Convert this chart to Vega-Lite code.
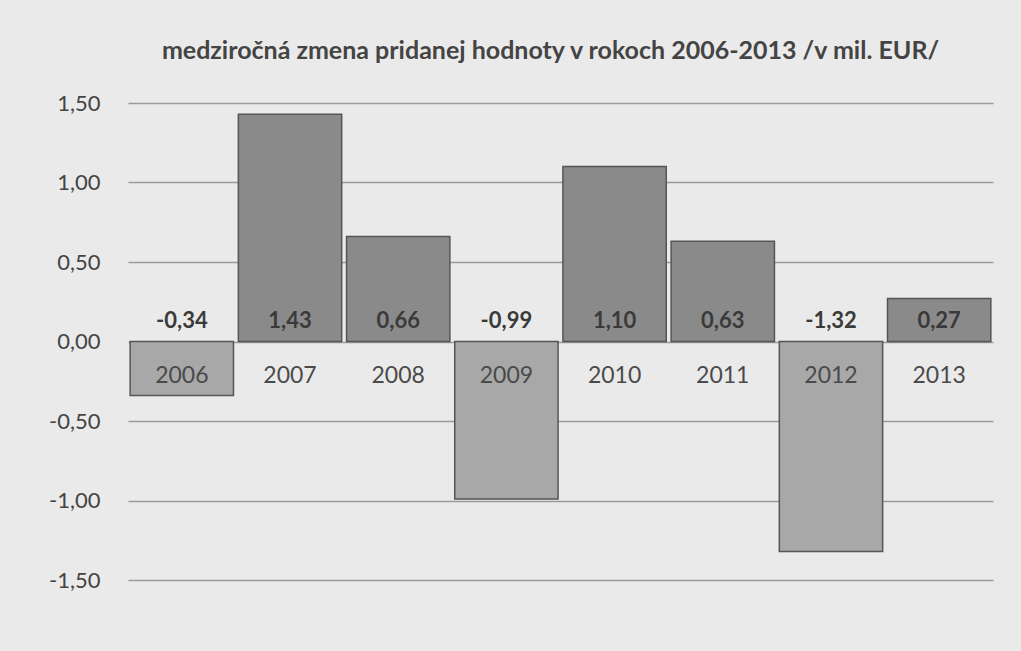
{
  "$schema": "https://vega.github.io/schema/vega-lite/v6.json",
  "width": 865,
  "height": 477,
  "autosize": {"type": "none"},
  "padding": {"left": 128, "top": 103, "right": 28, "bottom": 71},
  "background": "#eaeaea",
  "config": {
    "locale": {"number": {"decimal": ",", "thousands": " ", "grouping": [3], "currency": ["", " €"], "minus": "-"}},
    "view": {"stroke": null},
    "font": "Lato"
  },
  "title": {"text": "medziročná zmena pridanej  hodnoty v rokoch 2006-2013 /v mil. EUR/", "fontSize": 25, "fontWeight": "bold", "color": "#444444", "offset": 28, "anchor": "middle", "dx": -10},
  "data": {"values": [
    {"year": "2006", "value": -0.34},
    {"year": "2007", "value": 1.43},
    {"year": "2008", "value": 0.66},
    {"year": "2009", "value": -0.99},
    {"year": "2010", "value": 1.10},
    {"year": "2011", "value": 0.63},
    {"year": "2012", "value": -1.32},
    {"year": "2013", "value": 0.27}
  ]},
  "encoding": {
    "x": {"field": "year", "type": "nominal", "scale": {"paddingInner": 0.045, "paddingOuter": 0.02}, "axis": null}
  },
  "layer": [
    {
      "mark": {"type": "bar", "stroke": "#555555", "strokeWidth": 1.5},
      "encoding": {
        "y": {"field": "value", "type": "quantitative", "scale": {"domain": [-1.5, 1.5], "nice": false, "zero": false},
          "axis": {"values": [-1.5, -1, -0.5, 0, 0.5, 1, 1.5], "format": ".2f", "grid": true, "gridColor": "#9a9a9a", "gridWidth": 1.5, "domain": false, "ticks": false, "labelFontSize": 22, "labelColor": "#444444", "labelPadding": 28, "title": null}},
        "color": {"condition": {"test": "datum.value < 0", "value": "#a8a8a8"}, "value": "#8a8a8a"}
      }
    },
    {
      "mark": {"type": "text", "fontSize": 22, "fontWeight": "bold", "color": "#3a3a3a"},
      "encoding": {
        "y": {"datum": 0.13},
        "text": {"field": "value", "type": "quantitative", "format": ".2f"}
      }
    },
    {
      "mark": {"type": "text", "fontSize": 23, "color": "#4a4a4a"},
      "encoding": {
        "y": {"datum": -0.22},
        "text": {"field": "year", "type": "nominal"}
      }
    }
  ]
}
